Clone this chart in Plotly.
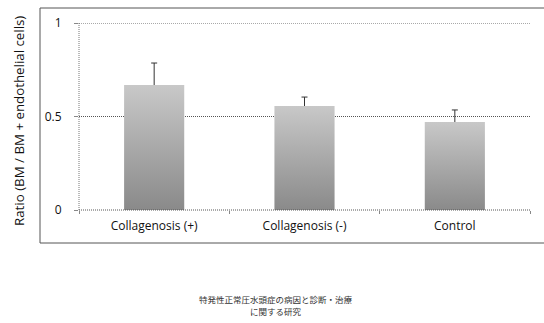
import plotly.graph_objects as go

# Data
categories = ["Collagenosis (+)", "Collagenosis (-)", "Control"]
ratios = [0.668, 0.556, 0.470]
errors = [0.118, 0.048, 0.065]
y_ticks = [0, 0.5, 1]
y_tick_labels = ["0", "0.5", "1"]
y_title = "Ratio (BM / BM + endothelial cells)"
footer_lines = ["特発性正常圧水頭症の病因と診断・治療", "に関する研究"]

W, H = 544, 323
L, R, T, B = 79, 14, 23, 113
half_width = 0.2
plot_h = H - T - B
plot_w = W - L - R

fig = go.Figure()

# Error bars first, so the lower half is hidden behind the bars
fig.add_trace(go.Scatter(
    x=list(range(len(categories))),
    y=ratios,
    mode="markers",
    marker=dict(size=1, color="rgba(0,0,0,0)"),
    error_y=dict(type="data", array=errors,
                 color="#333333", thickness=1, width=3),
    hoverinfo="skip",
    showlegend=False,
))

# Gradient-filled bars (light at the top, darker at the base)
for i, v in enumerate(ratios):
    fig.add_trace(go.Scatter(
        x=[i - half_width, i + half_width, i + half_width, i - half_width, i - half_width],
        y=[0, 0, v, v, 0],
        mode="lines",
        line=dict(width=0),
        fill="toself",
        fillgradient=dict(type="vertical",
                          colorscale=[[0, "#8a8a8a"], [1, "#c8c8c8"]]),
        hoverinfo="skip",
        showlegend=False,
    ))

font_family = "Open Sans, Liberation Sans, sans-serif"
dotted = "1px,1px"

shapes = [
    # Dotted value axis line
    dict(type="line", xref="paper", yref="paper",
         x0=0, x1=0, y0=0, y1=1,
         line=dict(color="#777777", width=1, dash=dotted)),
    # Dotted category axis line
    dict(type="line", xref="paper", yref="paper",
         x0=0, x1=1, y0=0, y1=0,
         line=dict(color="#555555", width=1, dash=dotted)),
    # Outer chart frame
    dict(type="rect", xref="paper", yref="paper",
         x0=(40 - L) / plot_w, x1=(548 - L) / plot_w,
         y0=(H - B - 243) / plot_h, y1=(H - B - 8) / plot_h,
         line=dict(color="#555555", width=1),
         fillcolor="rgba(0,0,0,0)", layer="below"),
]
# Gridline at the top tick, which sits on the plot edge
shapes.append(dict(type="line", xref="paper", yref="y",
                   x0=0, x1=1, y0=y_ticks[-1], y1=y_ticks[-1],
                   line=dict(color="#555555", width=1, dash=dotted)))

annotations = [
    # Value axis title, placed outside the frame on the left
    dict(text=y_title, xref="paper", yref="paper",
         x=(19 - L) / plot_w, y=(H - B - 121) / plot_h,
         xanchor="center", yanchor="middle", textangle=-90, showarrow=False,
         font=dict(family=font_family, size=13.3, color="#111111")),
]
for k, line in enumerate(footer_lines):
    annotations.append(dict(
        text=line, xref="paper", yref="paper",
        x=(276 - L) / plot_w, y=(H - B - (299 + 12 * k)) / plot_h,
        xanchor="center", yanchor="middle", showarrow=False,
        font=dict(family="Noto Sans CJK JP", size=8.5, color="#333333")))

fig.update_layout(
    width=W, height=H,
    margin=dict(l=L, r=R, t=T, b=B),
    paper_bgcolor="white",
    plot_bgcolor="white",
    font=dict(family=font_family, size=12, color="#111111"),
    xaxis=dict(
        range=[-0.5, 2.5],
        tickmode="array",
        tickvals=list(range(len(categories))),
        ticktext=categories,
        ticks="",
        ticklabelstandoff=7,
        showgrid=False,
        zeroline=False,
        showline=False,
        tickfont=dict(size=12, color="#111111"),
        minor=dict(tickmode="array", tickvals=[-0.5, 0.5, 1.5, 2.5],
                   ticks="outside", ticklen=3, tickcolor="#888888",
                   showgrid=False),
        fixedrange=True,
    ),
    yaxis=dict(
        range=[0, 1],
        tickmode="array",
        tickvals=y_ticks,
        ticktext=y_tick_labels,
        ticks="outside",
        ticklen=4,
        tickcolor="#888888",
        ticklabelstandoff=10,
        showgrid=True,
        gridcolor="#555555",
        griddash=dotted,
        gridwidth=1,
        zeroline=False,
        showline=False,
        tickfont=dict(size=12, color="#111111"),
        fixedrange=True,
    ),
    shapes=shapes,
    annotations=annotations,
)

fig.write_html("out.html")
